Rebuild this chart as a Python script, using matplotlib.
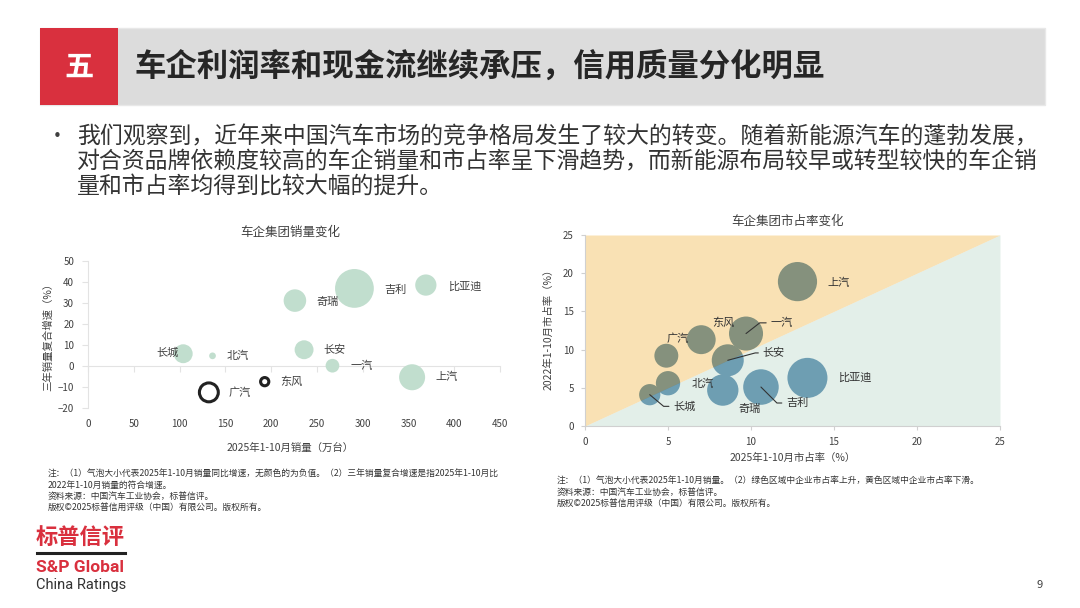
import matplotlib
matplotlib.use("Agg")
import matplotlib.pyplot as plt
from matplotlib.patches import Rectangle
from matplotlib.lines import Line2D

plt.rcParams['font.family'] = ['Noto Sans CJK SC', 'DejaVu Sans']

# ---- 数据：左图 车企集团销量变化 ----
groups = ["长城", "北汽", "广汽", "东风", "奇瑞", "吉利", "比亚迪", "长安", "一汽", "上汽"]
sales_2025 = [104, 136, 132, 193, 226, 291, 369, 236, 267, 354]        # 万台
cagr_3y = [5.7, 4.7, -12.7, -7.6, 31, 36.8, 38.4, 7.6, 0.0, -5.5]      # %
yoy_2025 = [9.5, 1.2, -9.5, -1.8, 13.5, 40, 12, 9.5, 5, 18]            # 气泡大小
sales_xticks = [0, 50, 100, 150, 200, 250, 300, 350, 400, 450]
cagr_yticks = [-20, -10, 0, 10, 20, 30, 40, 50]

# ---- 数据：右图 车企集团市占率变化 ----
share_2025 = [3.9, 5.0, 4.9, 7.0, 8.3, 10.6, 13.4, 8.6, 9.7, 12.8]     # %
share_2022 = [4.1, 5.6, 9.2, 11.3, 4.7, 5.1, 6.3, 8.6, 12.1, 18.9]     # %
share_ticks = [0, 5, 10, 15, 20, 25]

# 标签偏移（points）
left_offsets = [(-3.6, 1), (10, 0), (14.4, 0), (10.8, 0), (15.6, -1), (21.6, -1),
                (16, -1), (14.2, 0), (13, 0), (16.8, 0)]
left_ha = ["right"] + ["left"] * 9

fig = plt.figure(figsize=(10.8, 6.08), dpi=100)
fig.patch.set_facecolor("white")

# ---- 页眉 ----
fig.patches.append(Rectangle((40 / 1080, 1 - 105 / 608), 1005 / 1080, 77 / 608,
                             transform=fig.transFigure, facecolor="#dcdcdc",
                             edgecolor="#e8e8e8", lw=1))
fig.patches.append(Rectangle((40 / 1080, 1 - 105 / 608), 78 / 1080, 77 / 608,
                             transform=fig.transFigure, facecolor="#d9303e", lw=0))
fig.text(79 / 1080, 1 - 67 / 608, "五", color="white", fontsize=21, fontweight="bold",
         ha="center", va="center")
fig.text(135 / 1080, 1 - 67 / 608, "车企利润率和现金流继续承压，信用质量分化明显",
         color="#262626", fontsize=22.6, fontweight="bold", ha="left", va="center")

# ---- 正文 ----
body = ["我们观察到，近年来中国汽车市场的竞争格局发生了较大的转变。随着新能源汽车的蓬勃发展，",
        "对合资品牌依赖度较高的车企销量和市占率呈下滑趋势，而新能源布局较早或转型较快的车企销",
        "量和市占率均得到比较大幅的提升。"]
fig.text(47 / 1080, 1 - 137 / 608, "•", color="#404040", fontsize=15, ha="left", va="center")
for i, line in enumerate(body):
    fig.text(77 / 1080, 1 - (137 + 24.5 * i) / 608, line, color="#333333",
             fontsize=16.5, ha="left", va="center")

# ---- 左图 ----
ax1 = fig.add_axes([88 / 1080, 1 - 407.7 / 608, 412 / 1080, 147 / 608])
face = ["#c1dece" if v > 0 else "none" for v in yoy_2025]
edge = ["none" if v > 0 else "#222222" for v in yoy_2025]
ax1.scatter(sales_2025, cagr_3y, s=[abs(v) * 19.5 for v in yoy_2025],
            c=face, edgecolors=edge, linewidths=2.2, zorder=3)
for name, x, y, off, ha in zip(groups, sales_2025, cagr_3y, left_offsets, left_ha):
    ax1.annotate(name, (x, y), xytext=off, textcoords="offset points",
                 ha=ha, va="center", fontsize=8, color="#404040", zorder=4)
ax1.set_xlim(0, 450)
ax1.set_ylim(-20, 50)
ax1.set_xticks(sales_xticks)
ax1.set_yticks(cagr_yticks)
for s in ["top", "right"]:
    ax1.spines[s].set_visible(False)
ax1.spines["left"].set_color("#e3e3e3")
ax1.spines["bottom"].set_position(("data", 0))
ax1.spines["bottom"].set_color("#e3e3e3")
ax1.tick_params(axis="x", length=4, color="#e3e3e3", labelbottom=False)
ax1.tick_params(axis="y", length=4, color="#e3e3e3", labelsize=7, labelcolor="#404040", pad=6)
sec = ax1.secondary_xaxis("bottom")
sec.set_xticks(sales_xticks)
sec.spines["bottom"].set_visible(False)
sec.tick_params(length=0, labelsize=7, labelcolor="#404040", pad=8)
ax1.set_ylabel("三年销量复合增速（%）", fontsize=7.5, color="#404040")
ax1.yaxis.set_label_coords(-0.085, 0.5)
ax1.text(0.49, -0.272, "2025年1-10月销量（万台）", transform=ax1.transAxes,
         ha="center", va="center", fontsize=7.5, color="#404040")
ax1.text(0.49, 1.197, "车企集团销量变化", transform=ax1.transAxes,
         ha="center", va="center", fontsize=9, color="#404040")

# ---- 右图 ----
ax2 = fig.add_axes([585 / 1080, 1 - 426 / 608, 415 / 1080, 191 / 608])
ax2.set_xlim(0, 25)
ax2.set_ylim(0, 25)
ax2.scatter(share_2025, share_2022, s=[v * 2.25 for v in sales_2025],
            c="#3d79a3", edgecolors="none", zorder=1)
lim = [0, 25]
ax2.fill_between(lim, lim, 25, color="#f2b644", alpha=0.4, lw=0, zorder=2)
ax2.fill_between(lim, 0, lim, color="#b9d7ca", alpha=0.4, lw=0, zorder=2)

lbl = dict(fontsize=8, color="#333333", zorder=4, textcoords="offset points", va="center")
line_kw = dict(arrowstyle="-", color="#333333", lw=0.8, shrinkA=1, shrinkB=0)
# 有引导线的标签
leaders = {"吉利": ((18, -11.5), -45), "长城": ((16.8, -8.4), -40),
           "长安": ((25, 5.3), 15), "一汽": ((17.5, 7.7), 38)}
# 无引导线的标签
plain = {"上汽": ((21.6, -0.7), "left"), "比亚迪": ((21.9, 0), "left"),
         "东风": ((15.6, 12), "center"), "广汽": ((8.2, 12.5), "center"),
         "北汽": ((25, -0.7), "center"), "奇瑞": ((19.4, -13.5), "center")}
for name, x, y in zip(groups, share_2025, share_2022):
    if name in leaders:
        off, ang = leaders[name]
        ax2.annotate(name, (x, y), xytext=off, ha="left",
                     arrowprops=dict(connectionstyle=f"angle,angleA=0,angleB={ang},rad=0",
                                     **line_kw), **lbl)
    else:
        off, ha = plain[name]
        ax2.annotate(name, (x, y), xytext=off, ha=ha, **lbl)

ax2.set_xticks(share_ticks)
ax2.set_yticks(share_ticks)
for s in ["top", "right"]:
    ax2.spines[s].set_visible(False)
for s in ["left", "bottom"]:
    ax2.spines[s].set_color("#d0d0d0")
ax2.tick_params(length=3, color="#d0d0d0", labelsize=7, labelcolor="#404040", pad=5)
ax2.set_ylabel("2022年1-10月市占率（%）", fontsize=7.5, color="#404040")
ax2.yaxis.set_label_coords(-0.077, 0.52)
ax2.text(0.5, -0.168, "2025年1-10月市占率（%）", transform=ax2.transAxes,
         ha="center", va="center", fontsize=7.5, color="#404040")
ax2.text(0.489, 1.07, "车企集团市占率变化", transform=ax2.transAxes,
         ha="center", va="center", fontsize=9, color="#404040")

# ---- 注释 ----
note_left = ["注：（1）气泡大小代表2025年1-10月销量同比增速，无颜色的为负值。（2）三年销量复合增速是指2025年1-10月比",
             "2022年1-10月销量的符合增速。",
             "资料来源：中国汽车工业协会，标普信评。",
             "版权©2025标普信用评级（中国）有限公司。版权所有。"]
for i, t in enumerate(note_left):
    fig.text(48 / 1080, 1 - (474 + 11 * i) / 608, t, fontsize=6.3, color="#333333",
             ha="left", va="center")
note_right = ["注：（1）气泡大小代表2025年1-10月销量。（2）绿色区域中企业市占率上升，黄色区域中企业市占率下滑。",
              "资料来源：中国汽车工业协会，标普信评。",
              "版权©2025标普信用评级（中国）有限公司。版权所有。"]
for i, t in enumerate(note_right):
    fig.text(557 / 1080, 1 - (481 + 11 * i) / 608, t, fontsize=6.3, color="#333333",
             ha="left", va="center")

# ---- 标志与页码 ----
fig.text(36 / 1080, 1 - 537 / 608, "标普信评", fontsize=16, fontweight="bold",
         color="#d9303e", ha="left", va="center")
fig.add_artist(Line2D([37 / 1080, 125 / 1080], [1 - 553 / 608, 1 - 553 / 608],
                      transform=fig.transFigure, color="#222222", lw=2.2))
fig.text(36 / 1080, 1 - 567 / 608, "S&P Global", fontsize=12.5, fontweight="bold",
         color="#d9303e", ha="left", va="center", family="Roboto")
fig.text(36 / 1080, 1 - 585 / 608, "China Ratings", fontsize=10.5, color="#333333",
         ha="left", va="center", family="Roboto")
fig.text(1040 / 1080, 1 - 585 / 608, "9", fontsize=8, color="#404040",
         ha="center", va="center")

fig.savefig("out.png", dpi=100)
plt.close(fig)
